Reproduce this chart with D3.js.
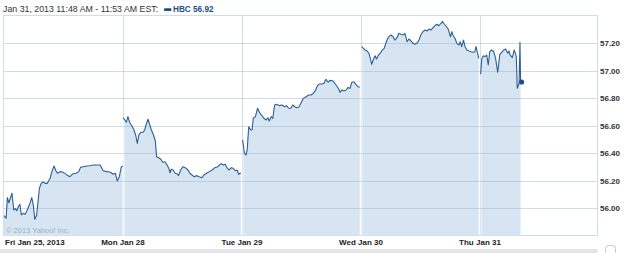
<!DOCTYPE html>
<html>
<head>
<meta charset="utf-8">
<script src="https://cdn.jsdelivr.net/npm/d3@7/dist/d3.min.js"></script>
<style>
  html, body { margin: 0; padding: 0; background: #fff; }
  svg { display: block; }
  text { font-family: "Liberation Sans", Arial, sans-serif; }
</style>
</head>
<body>
<svg id="chart" width="625" height="253"></svg>
<script>
// ---- data ----
const dayLabels = ["Fri Jan 25, 2013", "Mon Jan 28", "Tue Jan 29", "Wed Jan 30", "Thu Jan 31"];
const minutesPerDay = 390; // 9:30 AM - 4:00 PM
const yTicks = [56.00, 56.20, 56.40, 56.60, 56.80, 57.00, 57.20];
const headerText = "Jan 31, 2013 11:48 AM - 11:53 AM EST:";
const symbol = "HBC";
const lastPrice = 56.92;

// [minutes since open, price]
const fri = [[0,55.948],[7,55.929],[11,56.079],[16,56.042],[26,56.111],[32,55.989],[37,55.999],[42,55.984],[47,56.013],[52,56.031],[57,55.953],[63,55.965],[69,55.958],[74,55.977],[83,56.025],[91,56.079],[96,56.025],[101,55.921],[107,55.953],[116,56.147],[122,56.183],[129,56.193],[135,56.183],[142,56.183],[151,56.220],[157,56.268],[164,56.309],[170,56.275],[175,56.256],[184,56.268],[194,56.263],[205,56.246],[216,56.231],[225,56.251],[236,56.256],[245,56.268],[251,56.300],[260,56.304],[271,56.309],[282,56.311],[293,56.316],[304,56.316],[315,56.316],[325,56.275],[337,56.268],[347,56.265],[358,56.249],[365,56.256],[371,56.200],[378,56.231],[384,56.300],[389,56.309]];
const mon = [[0,56.660],[6,56.644],[11,56.627],[16,56.668],[23,56.620],[29,56.602],[36,56.571],[42,56.529],[47,56.474],[52,56.535],[58,56.554],[66,56.554],[71,56.571],[76,56.612],[82,56.649],[88,56.607],[93,56.571],[99,56.540],[106,56.491],[110,56.377],[117,56.369],[124,56.358],[130,56.336],[137,56.340],[143,56.321],[150,56.292],[154,56.260],[158,56.285],[165,56.278],[171,56.256],[178,56.251],[182,56.239],[189,56.280],[197,56.304],[204,56.297],[213,56.280],[219,56.256],[226,56.244],[233,56.231],[242,56.239],[250,56.231],[259,56.224],[265,56.244],[274,56.256],[283,56.268],[292,56.280],[301,56.297],[309,56.302],[316,56.316],[322,56.326],[329,56.316],[335,56.321],[342,56.292],[348,56.280],[355,56.297],[361,56.292],[368,56.275],[374,56.280],[379,56.249],[386,56.260]];
const tue = [[2,56.498],[8,56.401],[13,56.389],[17,56.425],[22,56.595],[29,56.571],[33,56.571],[37,56.656],[44,56.668],[51,56.729],[59,56.692],[66,56.673],[72,56.656],[79,56.644],[85,56.660],[89,56.636],[96,56.668],[101,56.656],[107,56.753],[114,56.758],[122,56.748],[131,56.753],[140,56.740],[146,56.748],[153,56.729],[160,56.729],[166,56.753],[173,56.740],[179,56.733],[186,56.736],[193,56.765],[201,56.801],[210,56.813],[219,56.825],[226,56.825],[234,56.838],[240,56.855],[247,56.893],[253,56.905],[262,56.905],[269,56.911],[275,56.940],[282,56.918],[288,56.932],[297,56.929],[304,56.911],[310,56.893],[317,56.869],[321,56.845],[328,56.862],[334,56.855],[341,56.862],[347,56.879],[354,56.874],[360,56.918],[367,56.922],[373,56.903],[380,56.886],[386,56.881]];
const wed = [[2,57.177],[8,57.165],[13,57.153],[20,57.145],[26,57.129],[30,57.097],[35,57.049],[40,57.080],[46,57.111],[51,57.087],[57,57.116],[63,57.129],[70,57.153],[76,57.165],[83,57.213],[89,57.242],[98,57.262],[105,57.249],[111,57.225],[118,57.242],[124,57.274],[131,57.267],[138,57.262],[144,57.274],[151,57.213],[157,57.233],[164,57.218],[170,57.201],[177,57.194],[183,57.201],[190,57.225],[196,57.262],[203,57.286],[210,57.298],[216,57.291],[223,57.305],[229,57.298],[236,57.315],[242,57.329],[249,57.340],[255,57.329],[262,57.347],[267,57.359],[273,57.340],[280,57.322],[286,57.305],[293,57.249],[298,57.286],[301,57.262],[308,57.238],[314,57.201],[321,57.189],[325,57.213],[330,57.177],[336,57.225],[341,57.177],[347,57.153],[354,57.145],[360,57.140],[367,57.136],[373,57.140],[377,57.177],[382,57.129],[386,57.092]];
const thu = [[2,56.976],[6,57.092],[11,57.111],[16,57.104],[22,57.116],[27,57.044],[32,57.140],[38,57.153],[45,57.140],[51,57.092],[58,56.991],[65,57.121],[71,57.136],[78,57.153],[84,57.160],[91,57.129],[95,57.145],[99,57.116],[106,57.097],[112,57.153],[119,57.104],[122,56.874],[128,56.911],[131,57.209],[133,56.920]];
const sessions = [fri, mon, tue, wed, thu];

// ---- chart ----
const svg = d3.select("#chart");
const plotLeft = 3.5, plotRight = 597.5, plotTop = 15.5, plotBottom = 235.5;

const x = d3.scaleLinear().domain([0, dayLabels.length * minutesPerDay]).range([4, 599]);
const y = d3.scaleLinear().domain([55.8036, 57.4036]).range([plotBottom, plotTop]);

const series = sessions.map((s, i) => s.map(([m, v]) => ({ t: i * minutesPerDay + m, v })));

// frame
svg.append("rect")
  .attr("x", plotLeft).attr("y", plotTop)
  .attr("width", plotRight - plotLeft).attr("height", plotBottom - plotTop)
  .attr("fill", "#fff").attr("stroke", "#d2dce6").attr("stroke-width", 1);

// day separators (under fill)
const sepTicks = d3.range(1, dayLabels.length).map(i => i * minutesPerDay);
svg.append("g").selectAll("line").data(sepTicks).join("line")
  .attr("x1", d => Math.round(x(d)) + 0.5).attr("x2", d => Math.round(x(d)) + 0.5)
  .attr("y1", plotTop).attr("y2", plotBottom)
  .attr("stroke", "#d2dce6").attr("stroke-width", 1);

const area = d3.area().x(d => x(d.t)).y0(plotBottom).y1(d => y(d.v));
const line = d3.line().x(d => x(d.t)).y(d => y(d.v));

// fill
svg.append("g").selectAll("path").data(series).join("path")
  .attr("d", area).attr("fill", "#d6e5f1");

// clip for white separators over the fill
const defs = svg.append("defs");
defs.append("clipPath").attr("id", "fillClip")
  .selectAll("path").data(series).join("path").attr("d", area);
svg.append("g").attr("clip-path", "url(#fillClip)")
  .selectAll("line").data(sepTicks).join("line")
  .attr("x1", d => Math.round(x(d)) + 0.5).attr("x2", d => Math.round(x(d)) + 0.5)
  .attr("y1", plotTop).attr("y2", plotBottom)
  .attr("stroke", "#f4f8fb").attr("stroke-width", 2);

// horizontal grid
svg.append("g").selectAll("line").data(yTicks).join("line")
  .attr("x1", plotLeft).attr("x2", plotRight)
  .attr("y1", d => Math.round(y(d)) + 0.5).attr("y2", d => Math.round(y(d)) + 0.5)
  .attr("stroke", "rgb(150,180,205)").attr("stroke-opacity", 0.45).attr("stroke-width", 1);

// watermark
svg.append("text").attr("x", 6).attr("y", 232.5)
  .attr("font-size", "7.5px").attr("fill", "#9fb3c6")
  .text("\u00a9 2013 Yahoo! Inc.");

// price line
svg.append("g").selectAll("path").data(series).join("path")
  .attr("d", line).attr("fill", "none")
  .attr("stroke", "#2d5f96").attr("stroke-width", 1.1).attr("stroke-linejoin", "round");

// last point dot
const lastSeries = series[series.length - 1];
const lastPt = lastSeries[lastSeries.length - 1];
svg.append("circle").attr("cx", x(lastPt.t) + 1).attr("cy", y(lastPt.v)).attr("r", 2.6)
  .attr("fill", "#1d4f87");

// y axis labels (right)
svg.append("g").selectAll("text").data(yTicks).join("text")
  .attr("x", 600).attr("y", d => y(d) + 3)
  .attr("font-size", "8px").attr("font-weight", "bold").attr("fill", "#333")
  .text(d => d.toFixed(2));

// x axis labels
const xLabelData = dayLabels.map((lab, i) => ({ lab, t: i * minutesPerDay }));
svg.append("g").selectAll("text").data(xLabelData).join("text")
  .attr("x", (d, i) => i === 0 ? 5 : x(d.t))
  .attr("y", 245)
  .attr("text-anchor", (d, i) => i === 0 ? "start" : "middle")
  .attr("font-size", "8px").attr("font-weight", "bold").attr("fill", "#222")
  .text(d => d.lab);

// bottom band
svg.append("rect").attr("x", 0).attr("y", 249).attr("width", plotRight).attr("height", 4)
  .attr("fill", "#e6e6e6");
svg.append("rect").attr("x", 605.5).attr("y", 245.5).attr("width", 10).attr("height", 10)
  .attr("rx", 3).attr("fill", "#fff").attr("stroke", "#c8c8c8");

// header
svg.append("text").attr("x", 3).attr("y", 11.5)
  .attr("font-size", "8.8px").attr("fill", "#333")
  .text(headerText);
svg.append("rect").attr("x", 164).attr("y", 8.3).attr("width", 7.5).attr("height", 2.6)
  .attr("rx", 1).attr("fill", "#1d4f87");
svg.append("text").attr("x", 173).attr("y", 11.5)
  .attr("font-size", "8.2px").attr("font-weight", "bold").attr("fill", "#1d4f87")
  .text(`${symbol} ${lastPrice.toFixed(2)}`);
</script>
</body>
</html>
